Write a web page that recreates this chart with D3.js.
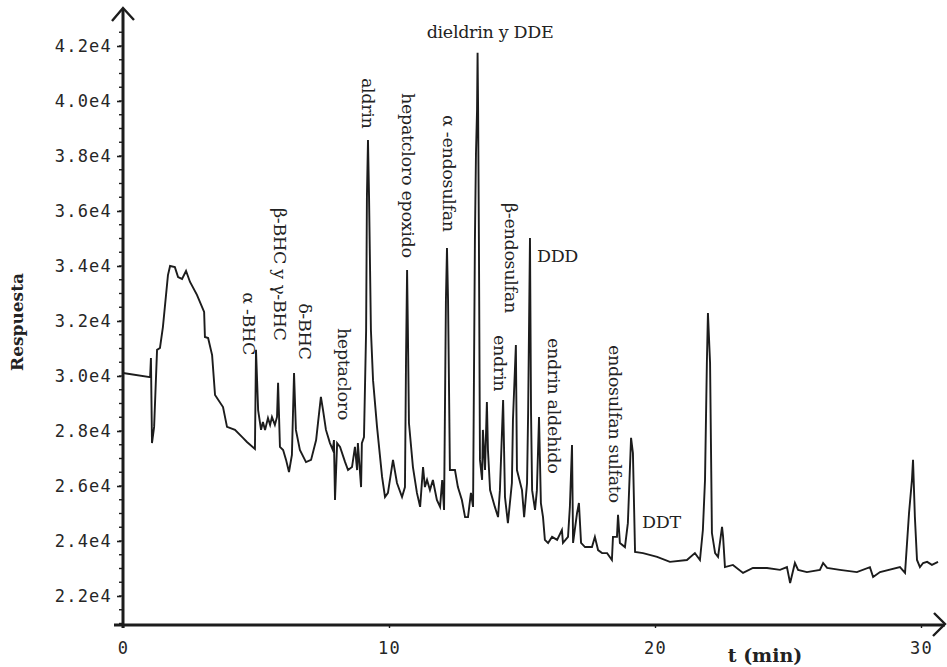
<!DOCTYPE html>
<html>
<head>
<meta charset="utf-8">
<script src="https://cdn.jsdelivr.net/npm/d3@7"></script>
<style>
  html, body { margin: 0; padding: 0; background: #ffffff; }
  svg { display: block; }
</style>
</head>
<body>
<svg id="chart" width="947" height="667"></svg>
<script>
// Retention time (min) of each trace point
const times = [
  0, 1.02, 1.05, 1.09, 1.17, 1.28, 1.39, 1.50, 1.69, 1.77, 1.95, 2.07, 2.22, 2.37, 2.52, 2.78,
  3.05, 3.08, 3.20, 3.35, 3.46, 3.76, 3.91, 4.21, 4.51, 4.66, 4.96, 5.00, 5.08, 5.19, 5.26, 5.34,
  5.45, 5.53, 5.60, 5.71, 5.79, 5.83, 5.90, 6.02, 6.13, 6.24, 6.35, 6.43, 6.50, 6.65, 6.88, 7.07,
  7.26, 7.33, 7.44, 7.52, 7.63, 7.78, 7.89, 7.93, 7.97, 8.05, 8.16, 8.35, 8.46, 8.61, 8.72, 8.80,
  8.83, 8.95, 8.98, 9.06, 9.14, 9.17, 9.21, 9.25, 9.32, 9.40, 9.55, 9.74, 9.85, 9.96, 10.15, 10.30,
  10.49, 10.60, 10.64, 10.68, 10.71, 10.75, 10.90, 11.05, 11.17, 11.28, 11.35, 11.43, 11.54, 11.65, 11.80, 11.92,
  12.00, 12.07, 12.14, 12.18, 12.22, 12.29, 12.48, 12.59, 12.74, 12.86, 12.97, 13.08, 13.16, 13.23, 13.27, 13.31,
  13.33, 13.35, 13.38, 13.42, 13.50, 13.53, 13.61, 13.68, 13.72, 13.80, 13.98, 14.10, 14.17, 14.29, 14.36, 14.47,
  14.62, 14.66, 14.77, 14.81, 15.00, 15.08, 15.19, 15.23, 15.30, 15.34, 15.38, 15.49, 15.56, 15.64, 15.71, 15.79,
  15.86, 15.98, 16.13, 16.32, 16.50, 16.54, 16.73, 16.80, 16.88, 16.92, 17.07, 17.14, 17.22, 17.37, 17.63, 17.74,
  17.86, 18.01, 18.20, 18.38, 18.42, 18.57, 18.61, 18.68, 18.87, 18.98, 19.10, 19.17, 19.25, 19.55, 20.08, 20.56,
  21.20, 21.50, 21.69, 21.80, 21.88, 21.95, 21.99, 22.07, 22.14, 22.26, 22.37, 22.52, 22.56, 22.63, 22.93, 23.31,
  23.68, 24.21, 24.70, 24.96, 25.08, 25.26, 25.38, 25.71, 26.20, 26.32, 26.47, 26.95, 27.59, 28.08, 28.20, 28.46,
  29.21, 29.40, 29.55, 29.66, 29.70, 29.77, 29.85, 29.96, 30.08, 30.23, 30.41, 30.64
];

// Detector response at each time
const responses = [
  30110, 29960, 30650, 27560, 28150, 30950, 31020, 31780, 33670, 34000, 33960, 33600, 33530, 33820, 33420, 32950,
  32330, 31420, 31380, 30760, 29310, 28870, 28150, 28040, 27750, 27600, 27350, 30950, 28760, 28040, 28330, 28040,
  28470, 28220, 28510, 28220, 28510, 29750, 27420, 27310, 26950, 26510, 27130, 30110, 28040, 27310, 26870, 26950,
  27670, 28290, 29240, 28760, 28040, 27560, 27310, 27670, 25490, 27560, 27420, 26870, 26580, 26690, 27420, 26580,
  27560, 25960, 27560, 27780, 31670, 36510, 38580, 36510, 31670, 29850, 28150, 26330, 25600, 25750, 26950, 26110,
  25600, 25960, 30580, 33850, 31670, 28290, 26690, 25750, 25240, 26690, 25960, 26220, 25850, 26220, 25490, 25240,
  26220, 25130, 32760, 34650, 32760, 26580, 26580, 25960, 25490, 24870, 24870, 25750, 25240, 34950, 38110, 39670,
  41750, 39670, 34950, 26950, 26220, 28040, 26580, 29050, 27310, 25850, 25240, 24870, 25850, 29130, 25600, 24650,
  26110, 28400, 31130, 26580, 25850, 24870, 26110, 28650, 35020, 28650, 25850, 25130, 25850, 28510, 25380, 24870,
  24040, 23930, 24150, 24040, 24400, 23930, 24150, 25240, 27490, 23930, 25020, 25380, 23930, 23780, 23780, 24150,
  23670, 23560, 23560, 23310, 24150, 24150, 24950, 23930, 23780, 24650, 27750, 27200, 23600, 23560, 23420, 23240,
  23310, 23560, 23310, 24400, 26220, 30470, 32290, 30470, 24290, 23560, 23420, 24510, 24150, 23050, 23130, 22840,
  23020, 23020, 22950, 23050, 22470, 23200, 22950, 22870, 22950, 23200, 23020, 22950, 22870, 23050, 22690, 22870,
  23050, 22840, 25020, 26220, 26950, 24870, 23310, 23050, 23200, 23240, 23130, 23240
];

// Axis ticks
const yTickValues = [22000, 24000, 26000, 28000, 30000, 32000, 34000, 36000, 38000, 40000, 42000];
const yTickLabels = ["2.2e4", "2.4e4", "2.6e4", "2.8e4", "3.0e4", "3.2e4", "3.4e4", "3.6e4", "3.8e4", "4.0e4", "4.2e4"];
const xTickValues = [0, 10, 20, 30];
const xTickLabels = ["0", "10", "20", "30"];

// Compound names, anchored at (time, response)
const peakNames = [
  "α -BHC", "β-BHC y γ-BHC", "δ-BHC", "heptacloro", "aldrin", "hepatcloro epoxido",
  "α -endosulfan", "dieldrin y DDE", "β-endosulfan", "DDD", "endrin", "endrin aldehido",
  "endosulfan sulfato", "DDT"
];
const peakNameTimes = [4.74, 5.90, 6.84, 8.31, 9.21, 10.71, 12.26, 13.80, 14.59, 15.56, 14.17, 16.20, 18.50, 19.51];
const peakNameResponses = [33050, 36110, 32650, 31750, 40840, 40290, 39490, 42290, 36290, 34150, 31490, 31380, 31130, 24470];
const peakNameVertical = [true, true, true, true, true, true, true, false, true, false, true, true, true, false];

const svg = d3.select("#chart");
const ink = "#1c1c1c";

const x = d3.scaleLinear().domain([0, 30]).range([123, 921]);
const y = d3.scaleLinear().domain([22000, 42000]).range([596, 46]);
const axisY = 625;

// Chromatogram trace
const trace = times.map((t, i) => ({ t, v: responses[i] }));
svg.append("path")
  .datum(trace)
  .attr("fill", "none")
  .attr("stroke", ink)
  .attr("stroke-width", 1.9)
  .attr("stroke-linejoin", "miter")
  .attr("d", d3.line().x(d => x(d.t)).y(d => y(d.v)));

// Y axis with arrow
const yAxisG = svg.append("g").attr("transform", `translate(${x(0)},0)`);
yAxisG.append("line")
  .attr("x1", 0).attr("x2", 0).attr("y1", 9).attr("y2", axisY + 3)
  .attr("stroke", ink).attr("stroke-width", 3);
yAxisG.append("path")
  .attr("d", "M-11,21 L0,8 L11,20")
  .attr("fill", "none").attr("stroke", ink).attr("stroke-width", 2.4);

// minor ticks
const minorY = d3.range(21000, 42600, 500);
yAxisG.selectAll("line.minor").data(minorY).join("line")
  .attr("class", "minor")
  .attr("x1", -4).attr("x2", 0)
  .attr("y1", d => y(d)).attr("y2", d => y(d))
  .attr("stroke", ink).attr("stroke-width", 1.4);

const yAxis = d3.axisLeft(y)
  .tickValues(yTickValues)
  .tickFormat((d, i) => yTickLabels[i])
  .tickSize(4)
  .tickPadding(5);
const yAx = svg.append("g").attr("transform", `translate(${x(0) - 2},0)`).call(yAxis);
yAx.select(".domain").remove();
yAx.selectAll(".tick line").attr("stroke", ink).attr("stroke-width", 1.6);
yAx.selectAll(".tick text")
  .attr("fill", "#262626")
  .style("font-family", "'DejaVu Sans Mono', monospace")
  .style("font-size", "17px")
  .style("letter-spacing", "1.2px");

// X axis with arrow
const xAxisG = svg.append("g").attr("transform", `translate(0,${axisY})`);
xAxisG.append("line")
  .attr("x1", 114).attr("x2", 945).attr("y1", 0).attr("y2", 0)
  .attr("stroke", ink).attr("stroke-width", 3);
xAxisG.append("path")
  .attr("d", "M934,-12 L945,-1 L933,11")
  .attr("fill", "none").attr("stroke", ink).attr("stroke-width", 2.4);

const xAxis = d3.axisBottom(x)
  .tickValues(xTickValues)
  .tickFormat((d, i) => xTickLabels[i])
  .tickSize(3)
  .tickPadding(14);
const xAx = svg.append("g").attr("transform", `translate(0,${axisY})`).call(xAxis);
xAx.select(".domain").remove();
xAx.selectAll(".tick line").attr("stroke", ink).attr("stroke-width", 1.4);
xAx.selectAll(".tick text")
  .attr("fill", "#262626")
  .style("font-family", "'DejaVu Sans Mono', monospace")
  .style("font-size", "17px")
  .style("letter-spacing", "1.2px");

// Axis titles
svg.append("text")
  .attr("transform", "translate(23,322) rotate(-90)")
  .attr("text-anchor", "middle")
  .attr("fill", "#222")
  .style("font-family", "'DejaVu Serif', serif")
  .style("font-weight", "bold")
  .style("font-size", "17px")
  .text("Respuesta");

svg.append("text")
  .attr("x", 765).attr("y", 662)
  .attr("text-anchor", "middle")
  .attr("fill", "#222")
  .style("font-family", "'DejaVu Serif', serif")
  .style("font-weight", "bold")
  .style("font-size", "19px")
  .text("t (min)");

// Peak names
const labels = peakNames.map((name, i) => ({
  name, t: peakNameTimes[i], v: peakNameResponses[i], vertical: peakNameVertical[i]
}));
svg.append("g").selectAll("text").data(labels).join("text")
  .attr("transform", d => d.vertical
    ? `translate(${x(d.t)},${y(d.v)}) rotate(90)`
    : `translate(${x(d.t)},${y(d.v)})`)
  .attr("text-anchor", d => d.name === "dieldrin y DDE" ? "middle" : "start")
  .attr("dominant-baseline", d => d.vertical ? "central" : "alphabetic")
  .attr("fill", "#222")
  .style("font-family", "'DejaVu Serif', serif")
  .style("font-size", "17.5px")
  .style("letter-spacing", "-0.3px")
  .text(d => d.name);
</script>
</body>
</html>
